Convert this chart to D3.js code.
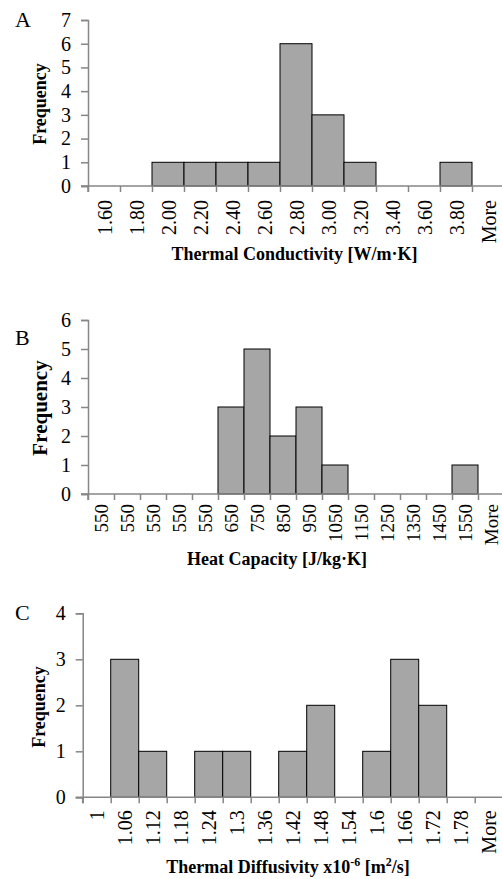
<!DOCTYPE html>
<html>
<head>
<meta charset="utf-8">
<script src="https://cdn.jsdelivr.net/npm/d3@7"></script>
<style>
html,body{margin:0;padding:0;background:#fff;}
svg{display:block;}
svg text{font-family:"Liberation Serif","Times New Roman",serif;}
</style>
</head>
<body>
<svg id="chart" width="502" height="879"></svg>
<script>
// ---- data ----
const catsA = ["1.60","1.80","2.00","2.20","2.40","2.60","2.80","3.00","3.20","3.40","3.60","3.80","More"];
const valsA = [0,0,1,1,1,1,6,3,1,0,0,1,0];
const yTicksA = [0,1,2,3,4,5,6,7];

const catsB = ["550","550","550","550","550","650","750","850","950","1050","1150","1250","1350","1450","1550","More"];
const valsB = [0,0,0,0,0,3,5,2,3,1,0,0,0,0,1,0];
const yTicksB = [0,1,2,3,4,5,6];

const catsC = ["1","1.06","1.12","1.18","1.24","1.3","1.36","1.42","1.48","1.54","1.6","1.66","1.72","1.78","More"];
const valsC = [0,3,1,0,1,1,0,1,2,0,1,3,2,0,0];
const yTicksC = [0,1,2,3,4];

const panelLetters = ["A","B","C"];
const yTitle = "Frequency";

// ---- layout ----
const FONT = "'Liberation Serif', 'Times New Roman', serif";
const svg = d3.select("#chart");
const AXIS = "#868686";

const panels = [
  {cats:catsA, vals:valsA, ticks:yTicksA, letter:panelLetters[0],
   x0:88, x1:504, y0:186, yTop:20, letterY:27, yTitleX:46, yTitleY:104, yTitleSize:18,
   xlSize:20, xlOff:14,
   titleX:294.5, titleY:260, title:[{t:"Thermal Conductivity [W/m·K]"}]},
  {cats:catsB, vals:valsB, ticks:yTicksB, letter:panelLetters[1],
   x0:88, x1:504, y0:494, yTop:320, letterY:345, yTitleX:47, yTitleY:408, yTitleSize:21,
   xlSize:19, xlOff:10,
   titleX:277, titleY:565, title:[{t:"Heat Capacity [J/kg·K]"}]},
  {cats:catsC, vals:valsC, ticks:yTicksC, letter:panelLetters[2],
   x0:82.7, x1:502.7, y0:797.3, yTop:613.3, letterY:620, yTitleX:45, yTitleY:707, yTitleSize:18,
   xlSize:20, xlOff:13,
   titleX:288, titleY:873, title:[{t:"Thermal Diffusivity x10"},{t:"-6",sup:true},{t:" [m"},{t:"2",sup:true},{t:"/s]"}]}
];

panels.forEach(p => {
  const n = p.cats.length;
  const x = d3.scaleBand().domain(d3.range(n)).range([p.x0, p.x1]).padding(0);
  const xb = d3.scaleLinear().domain([0, n]).range([p.x0, p.x1]);
  const y = d3.scaleLinear().domain([0, d3.max(p.ticks)]).range([p.y0, p.yTop]);
  const g = svg.append("g").attr("font-family", FONT);

  // bars
  g.selectAll("rect.bar").data(p.vals.map((v,i)=>({v,i})).filter(d=>d.v>0))
    .join("rect").attr("class","bar")
    .attr("x", d => x(d.i)).attr("width", x.bandwidth())
    .attr("y", d => y(d.v)).attr("height", d => y(0) - y(d.v))
    .attr("fill","#a6a6a6").attr("stroke","#000").attr("stroke-width",1);

  // x axis line
  g.append("line").attr("x1", p.x0 - 7).attr("x2", 502).attr("y1", y(0)).attr("y2", y(0))
    .attr("stroke", AXIS).attr("stroke-width", 1.5);

  // x boundary ticks
  const xAxis = d3.axisBottom(xb).tickValues(d3.range(0, n)).tickSize(6).tickFormat("");
  const xg = g.append("g").attr("transform", `translate(0,${y(0)})`).call(xAxis);
  xg.select(".domain").remove();
  xg.selectAll(".tick line").attr("stroke", AXIS).attr("stroke-width", 1.5);

  // x labels (rotated)
  g.selectAll("text.xl").data(p.cats).join("text").attr("class","xl")
    .attr("transform", (d,i) => `translate(${x(i) + x.bandwidth()/2},${y(0)+p.xlOff}) rotate(-90)`)
    .attr("text-anchor","end").attr("dy","0.38em")
    .attr("font-family", FONT).attr("font-size", p.xlSize).attr("fill","#000")
    .text(d => d);

  // y axis
  const yAxis = d3.axisLeft(y).tickValues(p.ticks).tickSize(7).tickPadding(10).tickFormat(d3.format("d"));
  const yg = g.append("g").attr("transform", `translate(${p.x0},0)`).call(yAxis);
  yg.attr("font-family", FONT).attr("font-size", 20);
  yg.select(".domain").attr("stroke", AXIS).attr("stroke-width", 1.5);
  yg.selectAll(".tick line").attr("stroke", AXIS).attr("stroke-width", 1.5);
  yg.selectAll(".tick text").attr("font-family", FONT).attr("font-size", 20).attr("fill","#000");
  // extend y axis down to x tick length
  g.append("line").attr("x1", p.x0).attr("x2", p.x0).attr("y1", y(0)).attr("y2", y(0)+6)
    .attr("stroke", AXIS).attr("stroke-width", 1.5);

  // y title
  g.append("text").attr("transform", `translate(${p.yTitleX},${p.yTitleY}) rotate(-90)`)
    .attr("text-anchor","middle").attr("font-weight","bold").attr("font-size", p.yTitleSize)
    .attr("font-family", FONT).text(yTitle);

  // x title
  const tt = g.append("text").attr("x", p.titleX).attr("y", p.titleY)
    .attr("text-anchor","middle").attr("font-weight","bold").attr("font-size", 18)
    .attr("font-family", FONT);
  p.title.forEach(s => {
    const ts = tt.append("tspan").text(s.t);
    if (s.sup) ts.attr("font-size", 12).attr("baseline-shift","super");
  });

  // panel letter
  g.append("text").attr("x", 15).attr("y", p.letterY).attr("font-size", 22)
    .attr("font-family", FONT).text(p.letter);
});
</script>
</body>
</html>
